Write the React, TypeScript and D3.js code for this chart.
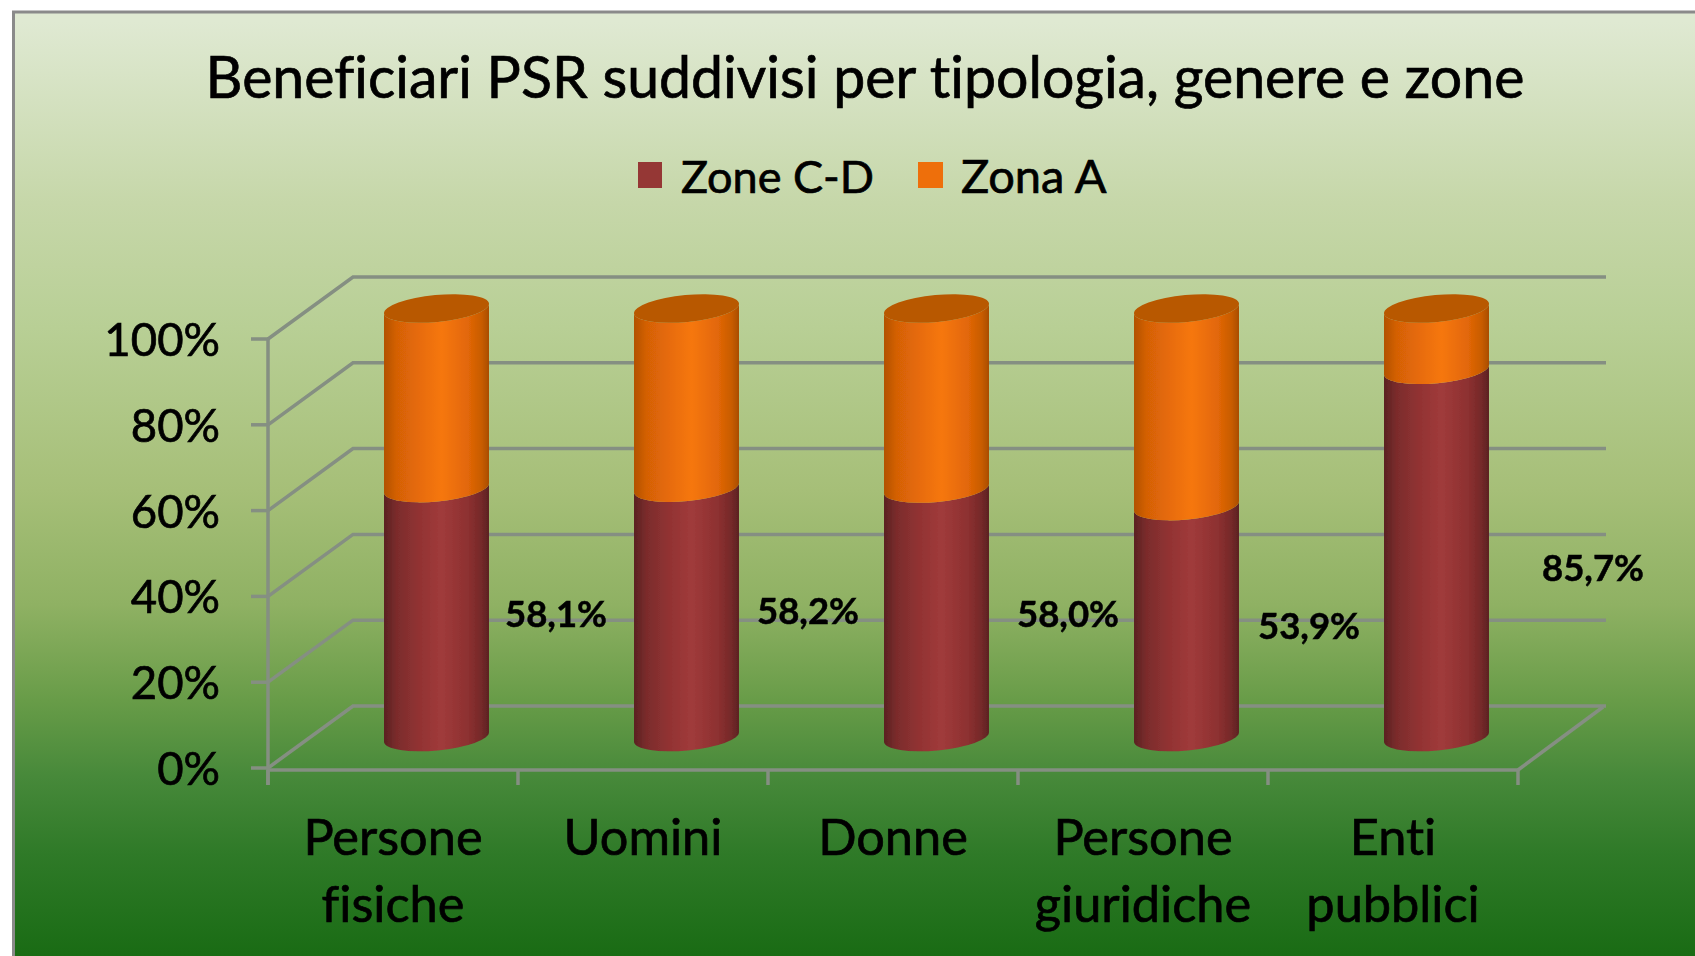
import React from "react";
import * as d3 from "d3";

const categories = [["Persone", "fisiche"], ["Uomini"], ["Donne"], ["Persone", "giuridiche"], ["Enti", "pubblici"]];
const zoneCD = [58.1, 58.2, 58.0, 53.9, 85.7];
const zonaA = [41.9, 41.8, 42.0, 46.1, 14.3];
const yTicks = [0, 20, 40, 60, 80, 100];
const labels = ["58,1%", "58,2%", "58,0%", "53,9%", "85,7%"];
const title = "Beneficiari PSR suddivisi per tipologia, genere e zone";
const seriesNames = ["Zone C-D", "Zona A"];

const labelPos = [[556, 615], [808, 612], [1068, 615], [1309, 627], [1593, 569]];
const FONT = "Lato, Carlito, 'Open Sans', sans-serif";
const GRID = "#858f82";

const W = 1695, H = 956;
const y = d3.scaleLinear().domain([0, 100]).range([768, 339]);
const barY = d3.scaleLinear().domain([0, 100]).range([737, 308.5]);
const x = d3.scaleBand<number>().domain(d3.range(categories.length)).range([268, 1518]);
const depthX = 85, depthY = -62;
const halfW = 52.5, tilt = 5, ry = 13.5;
const rx = Math.hypot(halfW, tilt);
const rot = (-Math.atan2(tilt, halfW) * 180) / Math.PI;

const rows = categories.map((_, i) => ({ i, cd: zoneCD[i], a: zonaA[i] }));
const stack = d3.stack<any>().keys(["cd", "a"])(rows);

function segment(cx: number, v0: number, v1: number) {
  const y0 = barY(v0), y1 = barY(v1);
  return `M${cx - halfW},${y1 + tilt}L${cx - halfW},${y0 + tilt}` +
    `A${rx},${ry} ${rot} 0 0 ${cx + halfW},${y0 - tilt}` +
    `L${cx + halfW},${y1 - tilt}` +
    `A${rx},${ry} ${rot} 0 1 ${cx - halfW},${y1 + tilt}Z`;
}

const bgStops: [number, string][] = [
  [0.01, "#dfe9d2"], [0.2, "#c6d7a9"], [0.33, "#b8cf95"], [0.5, "#a6bf78"],
  [0.62, "#8fb163"], [0.72, "#689c48"], [0.8, "#47893a"], [0.88, "#2f7a28"], [1, "#176a12"],
];
const maroon: [number, string][] = [[0, "#5a2222"], [0.12, "#7b2c2c"], [0.35, "#933333"], [0.55, "#a03b3b"], [0.8, "#8d3030"], [0.93, "#742929"], [1, "#5c2222"]];
const orange: [number, string][] = [[0, "#b25200"], [0.12, "#d46006"], [0.35, "#e86c08"], [0.55, "#f6770b"], [0.8, "#e26707"], [0.93, "#c85c03"], [1, "#a94d00"]];

const textStyle: React.CSSProperties = { fontVariantLigatures: "none", stroke: "#000", strokeWidth: 0.7 };

export default function App() {
  const cx = (i: number) => (x(i) as number) + x.bandwidth() / 2 + 43.5;
  return (
    <svg width={W} height={H} viewBox={`0 0 ${W} ${H}`} style={{ position: "absolute", left: 0, top: 0, background: "#fff", fontFamily: FONT }}>
      <defs>
        <linearGradient id="bg" x1="0" y1="0" x2="0" y2="1">
          {bgStops.map(([o, c]) => <stop key={o} offset={o} stopColor={c} />)}
        </linearGradient>
        <linearGradient id="s0" x1="0" y1="0" x2="1" y2="0">
          {maroon.map(([o, c]) => <stop key={o} offset={o} stopColor={c} />)}
        </linearGradient>
        <linearGradient id="s1" x1="0" y1="0" x2="1" y2="0">
          {orange.map(([o, c]) => <stop key={o} offset={o} stopColor={c} />)}
        </linearGradient>
        <filter id="soft" x="-5%" y="-5%" width="110%" height="110%">
          <feGaussianBlur stdDeviation="0.7" />
        </filter>
      </defs>
      <rect x={13.5} y={12} width={W} height={H} fill="url(#bg)" stroke="#8a8a8a" strokeWidth={3} />

      <text x={865} y={98} textAnchor="middle" fontSize={57.2} fill="#000" style={textStyle}>{title}</text>

      <rect x={638} y={162} width={24} height={26} fill="#953735" />
      <text x={681} y={193} fontSize={45} fill="#000" style={textStyle}>{seriesNames[0]}</text>
      <rect x={918} y={162} width={25} height={26} fill="#ee6f0b" />
      <text x={961} y={193} fontSize={47} fill="#000" style={textStyle}>{seriesNames[1]}</text>

      <g filter="url(#soft)" stroke={GRID} strokeWidth={3.5} fill="none">
        {yTicks.map((t) => (
          <g key={t}>
            <path d={`M${x.range()[0]},${y(t)}L${x.range()[0] + depthX},${y(t) + depthY}L${1606},${y(t) + depthY}`} />
            <line x1={251} x2={268} y1={y(t)} y2={y(t)} />
          </g>
        ))}
        <line x1={268} x2={268} y1={y(100)} y2={785} />
        <line x1={268} x2={1518} y1={770} y2={770} />
        <line x1={1518} x2={1603} y1={770} y2={707} />
        {d3.range(categories.length + 1).map((i) => {
          const tx = i === categories.length ? 1518 : (x(i) as number);
          return <line key={i} x1={tx} x2={tx} y1={770} y2={785} />;
        })}
      </g>

      <g filter="url(#soft)">
        {rows.map((r) => (
          <g key={r.i}>
            {stack.map((s, k) => (
              <path key={k} d={segment(cx(r.i), s[r.i][0], s[r.i][1])} fill={`url(#s${k})`} />
            ))}
            <ellipse cx={cx(r.i)} cy={barY(100)} rx={rx} ry={ry} transform={`rotate(${rot} ${cx(r.i)} ${barY(100)})`} fill="#b85800" />
          </g>
        ))}
      </g>

      {yTicks.map((t) => (
        <text key={t} x={220} y={y(t) + 17} textAnchor="end" fontSize={45.5} fill="#000" style={textStyle}>{t}%</text>
      ))}

      {categories.map((lines, i) => (
        <text key={i} textAnchor="middle" fontSize={50.5} fill="#000" style={textStyle}>
          {lines.map((l, j) => (
            <tspan key={j} x={(x(i) as number) + x.bandwidth() / 2} y={855 + j * 67}>{l}</tspan>
          ))}
        </text>
      ))}

      {labels.map((l, i) => (
        <text key={i} x={labelPos[i][0]} y={labelPos[i][1] + 12} textAnchor="middle" fontSize={36.5} fontWeight={700} fill="#000" stroke="#000" strokeWidth={0.5} style={{ fontVariantLigatures: "none" }}>{l}</text>
      ))}
    </svg>
  );
}
